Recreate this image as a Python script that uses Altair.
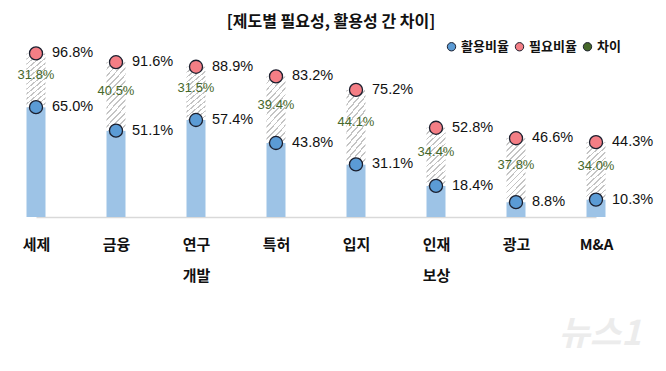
import altair as alt
import pandas as pd

categories = ["세제", "금융", "연구\n개발", "특허", "입지", "인재\n보상", "광고", "M&A"]
use_vals = [65.0, 51.1, 57.4, 43.8, 31.1, 18.4, 8.8, 10.3]
need_vals = [96.8, 91.6, 88.9, 83.2, 75.2, 52.8, 46.6, 44.3]
diff_vals = [31.8, 40.5, 31.5, 39.4, 44.1, 34.4, 37.8, 34.0]
series_names = ["활용비율", "필요비율", "차이"]
title_text = "[제도별 필요성, 활용성 간 차이]"

KR = "Noto Sans CJK KR"
NUM = "Liberation Sans"

wide = pd.DataFrame({
    "cat": categories,
    "use": use_vals,
    "need": need_vals,
    "diff": diff_vals,
})
wide["mid"] = (wide["use"] + wide["need"]) / 2
wide["diff_label"] = [f"{v:.1f}%" for v in diff_vals]
wide["series"] = series_names[2]

long_rows = []
for c, u, n in zip(categories, use_vals, need_vals):
    long_rows.append({"cat": c, "series": series_names[0], "value": u, "label": f"{u:.1f}%"})
    long_rows.append({"cat": c, "series": series_names[1], "value": n, "label": f"{n:.1f}%"})
long = pd.DataFrame(long_rows)

x_enc = alt.X("cat:N", sort=categories,
              scale=alt.Scale(type="point", range=[28, 588], padding=0),
              axis=alt.Axis(title=None, labelAngle=0, ticks=False, grid=False,
                            domainColor="#d9d9d9", domainWidth=1.5,
                            labelFont=KR, labelFontSize=15, labelFontWeight="bold",
                            labelColor="#111111", labelPadding=20, labelBaseline="top",
                            labelLineHeight=31,
                            labelExpr="split(datum.label, '\\n')"))
y_scale = alt.Scale(domain=[0, 100], nice=False, zero=True)

color_scale = alt.Scale(domain=series_names, range=["#5B9BD5", "#F47E85", "#46682A"])

# hatch via striped gradient
stops = []
n_cycles = 14
for k in range(n_cycles):
    a = k / n_cycles
    b = (k + 0.3) / n_cycles
    e = (k + 1) / n_cycles
    stops += [
        alt.GradientStop(offset=a, color="#c4c4c4"),
        alt.GradientStop(offset=b, color="#c4c4c4"),
        alt.GradientStop(offset=b, color="#ffffff"),
        alt.GradientStop(offset=e, color="#ffffff"),
    ]
hatch = alt.LinearGradient(gradient="linear", stops=stops, x1=0, y1=0, x2=0.358, y2=1.193)

base = alt.Chart(wide)

bars = base.mark_bar(size=19, color="#9DC3E6").encode(
    x=x_enc, y=alt.Y("use:Q", scale=y_scale, axis=None)
)
gap = base.mark_bar(size=19, fill=hatch).encode(
    x=x_enc, y=alt.Y("use:Q", scale=y_scale, axis=None), y2="need:Q"
)
diff_text = base.mark_text(font=NUM, fontSize=13, dy=-5, align="center", baseline="middle").encode(
    x=x_enc, y=alt.Y("mid:Q", scale=y_scale, axis=None), text="diff_label:N",
    color=alt.Color("series:N", scale=color_scale)
)

pts = alt.Chart(long).mark_point(filled=True, size=170, stroke="#1b1f2e", strokeWidth=1.3, opacity=1).encode(
    x=x_enc, y=alt.Y("value:Q", scale=y_scale, axis=None),
    color=alt.Color("series:N", scale=color_scale,
                    legend=alt.Legend(title=None, orient="none", direction="horizontal",
                                      legendX=437, legendY=-8, symbolType="circle",
                                      symbolSize=70, symbolStrokeColor="#1b1f2e",
                                      symbolStrokeWidth=1, labelFont=KR, labelFontSize=13,
                                      labelFontWeight="bold", labelColor="#111111",
                                      columnPadding=4, labelOffset=3, padding=0))
)
val_text = alt.Chart(long).mark_text(font=NUM, fontSize=14.5, dx=16, align="left",
                                     baseline="middle", color="#111111").encode(
    x=x_enc, y=alt.Y("value:Q", scale=y_scale, axis=None), text="label:N"
)

wm = alt.Chart(pd.DataFrame({"t": ["뉴스1"]})).mark_text(
    font=KR, fontSize=34, fontStyle="italic", fontWeight="bold", color="#ececec"
).encode(x=alt.value(592), y=alt.value(287), text="t:N")

chart = alt.layer(bars, gap, diff_text, pts, val_text, wm).properties(
    width=630, height=169,
    title=alt.TitleParams(title_text, font=KR, fontSize=16, fontWeight="bold",
                          color="#111111", anchor="middle", dx=8, offset=10),
    autosize=alt.AutoSizeParams(type="none"),
    padding={"left": 0, "top": 40, "right": 20, "bottom": 140},
).configure_view(stroke=None)

chart.save("out.html", embed_options={"renderer": "svg", "actions": False})
